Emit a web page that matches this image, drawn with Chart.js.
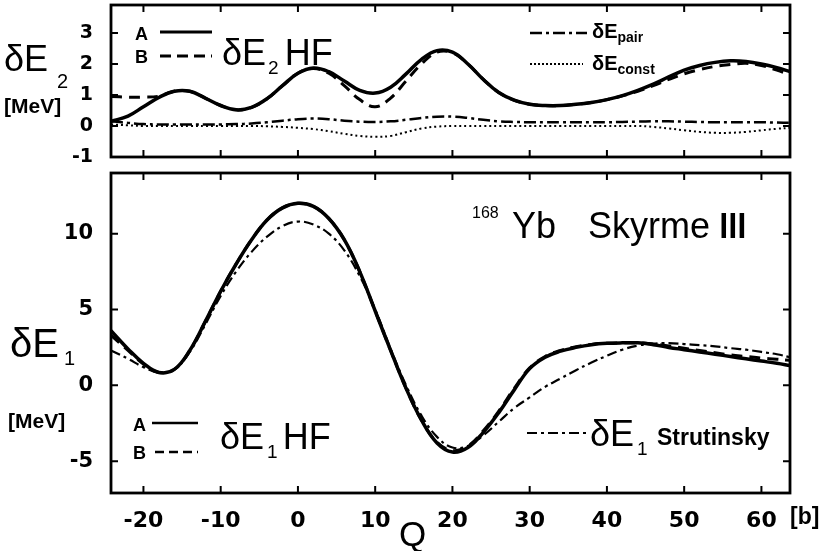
<!DOCTYPE html>
<html><head><meta charset="utf-8">
<script src="https://cdn.jsdelivr.net/npm/chart.js@4.4.1/dist/chart.umd.min.js"></script>
<style>
html,body{margin:0;padding:0;background:#fff;}
#wrap{position:relative;width:819px;height:551px;overflow:hidden;background:#fff;color:#000;font-family:"Liberation Sans",Arial,sans-serif;}
canvas{position:absolute;left:0;top:0;}
.t{position:absolute;white-space:nowrap;line-height:1;}
.big{font-size:36px;}
.bold{font-weight:bold;}
svg{position:absolute;left:0;top:0;}
</style></head>
<body><div id="wrap">
<canvas id="cTop" width="819" height="551"></canvas>
<canvas id="cBot" width="819" height="551"></canvas>
<svg width="819" height="551">
 <line x1="160" y1="32" x2="212" y2="32" stroke="#000" stroke-width="3"/>
 <line x1="160" y1="56" x2="212" y2="56" stroke="#000" stroke-width="3" stroke-dasharray="11,6"/>
 <line x1="530" y1="33" x2="587" y2="33" stroke="#000" stroke-width="2.5" stroke-dasharray="12,4,3,4"/>
 <line x1="530" y1="64" x2="583" y2="64" stroke="#000" stroke-width="2" stroke-dasharray="2,2"/>
 <line x1="152" y1="423" x2="198" y2="423" stroke="#000" stroke-width="2.5"/>
 <line x1="155" y1="452" x2="198" y2="452" stroke="#000" stroke-width="2.5" stroke-dasharray="9,5"/>
 <line x1="527" y1="433" x2="588" y2="433" stroke="#000" stroke-width="2" stroke-dasharray="10,4,3,4"/>
</svg>
<!-- top panel texts -->
<div class="t big" style="left:4px;top:41px;">δE</div>
<div class="t" style="left:57px;top:71px;font-size:20px;">2</div>
<div class="t bold" style="left:4px;top:95px;font-size:21px;">[MeV]</div>
<div class="t bold" style="left:135px;top:25px;font-size:18px;">A</div>
<div class="t bold" style="left:135px;top:48px;font-size:18px;">B</div>
<div class="t big" style="left:222px;top:35px;">δE<span style="font-size:19px;position:relative;top:9px;margin-left:2px;margin-right:6px;">2</span>HF</div>
<div class="t bold" style="left:592px;top:21px;font-size:20px;">δE<span style="font-size:14px;position:relative;top:4px;">pair</span></div>
<div class="t bold" style="left:592px;top:53px;font-size:20px;">δE<span style="font-size:14px;position:relative;top:4px;">const</span></div>
<!-- bottom panel texts -->
<div class="t" style="left:472px;top:205px;font-size:16px;">168</div>
<div class="t big" style="left:512px;top:208px;">Yb</div>
<div class="t big" style="left:588px;top:208px;">Skyrme</div>
<div class="t" style="left:717px;top:209px;font-size:34px;font-family:'DejaVu Sans';transform:scaleX(1.35);transform-origin:left center;">Ⅲ</div>
<div class="t" style="left:10px;top:323px;font-size:40px;">δE</div>
<div class="t" style="left:64px;top:348px;font-size:20px;">1</div>
<div class="t bold" style="left:8px;top:410px;font-size:21px;">[MeV]</div>
<div class="t bold" style="left:133px;top:416px;font-size:18px;">A</div>
<div class="t bold" style="left:133px;top:444px;font-size:18px;">B</div>
<div class="t big" style="left:220px;top:419px;">δE<span style="font-size:19px;position:relative;top:9px;margin-left:3px;margin-right:5px;">1</span>HF</div>
<div class="t big" style="left:590px;top:416px;">δE<span style="font-size:19px;position:relative;top:9px;margin-left:3px;">1</span></div>
<div class="t bold" style="left:657px;top:426px;font-size:23px;">Strutinsky</div>
<div class="t" style="left:399px;top:516px;font-size:35px;">Q</div>
<div class="t bold" style="left:790px;top:505px;font-size:23px;">[b]</div>
</div>
<script>
// ---------- data ----------
const Q = [-24.2,-22,-20,-18,-16,-14,-12,-10,-8,-6,-4,-2,0,2,4,6,8,10,12,14,16,18,20,22,24,26,28,30,32,34,36,38,40,42,44,46,48,50,52,54,56,58,60,62,63.7];
// top panel: delta E2 [MeV]
const dE2_HF_A = [0.15,0.32,0.62,0.92,1.12,1.12,0.90,0.66,0.52,0.60,0.88,1.30,1.70,1.87,1.75,1.45,1.15,1.06,1.25,1.68,2.15,2.43,2.38,2.00,1.50,1.08,0.83,0.70,0.66,0.66,0.70,0.76,0.85,0.98,1.15,1.35,1.58,1.80,1.95,2.05,2.10,2.08,2.00,1.88,1.75];
const dE2_HF_B = [0.95,0.93,0.93,0.96,1.12,1.12,0.90,0.66,0.52,0.60,0.88,1.30,1.70,1.85,1.70,1.30,0.85,0.62,0.90,1.45,2.00,2.38,2.36,2.00,1.50,1.08,0.83,0.70,0.66,0.66,0.70,0.76,0.85,0.97,1.12,1.30,1.50,1.68,1.82,1.92,1.98,2.02,1.95,1.80,1.65];
const dE_pair = [0.15,0.10,0.06,0.05,0.05,0.05,0.05,0.05,0.06,0.08,0.12,0.17,0.22,0.24,0.22,0.17,0.14,0.13,0.15,0.20,0.26,0.30,0.30,0.26,0.20,0.15,0.13,0.12,0.12,0.12,0.12,0.12,0.12,0.13,0.14,0.15,0.15,0.14,0.13,0.12,0.12,0.12,0.12,0.11,0.10];
const dE_const = [0.05,0.02,0.00,0.00,0.00,0.00,0.00,0.00,0.00,0.00,-0.01,-0.03,-0.06,-0.10,-0.17,-0.25,-0.32,-0.35,-0.32,-0.20,-0.08,-0.02,0.00,0.00,0.00,0.00,0.00,0.00,0.00,0.00,0.00,0.00,0.00,0.00,0.00,-0.03,-0.08,-0.14,-0.19,-0.22,-0.22,-0.19,-0.14,-0.09,-0.06];
// bottom panel: delta E1 [MeV]
const dE1_HF_A = [3.6,2.4,1.45,0.85,1.05,2.3,4.2,6.2,8.0,9.6,10.9,11.7,12.0,11.8,11.0,9.6,7.5,4.9,2.3,-0.2,-2.3,-3.8,-4.4,-4.1,-3.1,-1.8,-0.3,1.1,1.85,2.25,2.5,2.68,2.77,2.8,2.8,2.68,2.5,2.35,2.2,2.05,1.9,1.75,1.6,1.45,1.3];
const dE1_HF_B = [3.3,2.3,1.4,0.85,1.05,2.3,4.2,6.2,8.0,9.6,10.9,11.7,12.0,11.8,11.0,9.6,7.5,4.9,2.3,-0.2,-2.3,-3.75,-4.3,-4.0,-3.0,-1.7,-0.2,1.15,1.9,2.3,2.55,2.7,2.78,2.8,2.8,2.72,2.6,2.45,2.3,2.15,2.0,1.9,1.8,1.72,1.65];
const dE1_Strut = [2.3,1.75,1.2,0.85,1.05,2.2,4.0,5.9,7.5,8.8,9.8,10.5,10.8,10.6,10.0,8.9,7.2,5.0,2.4,0.0,-2.0,-3.4,-4.1,-4.0,-3.3,-2.4,-1.5,-0.8,-0.1,0.45,1.0,1.5,1.95,2.35,2.62,2.75,2.78,2.72,2.65,2.57,2.45,2.35,2.2,2.05,1.85];
const xTicks = [-20,-10,0,10,20,30,40,50,60];
const yTicksTop = [-1,0,1,2,3];
const yTicksBot = [-5,0,5,10];

// ---------- helpers ----------
const pts = arr => Q.map((q,i)=>({x:q,y:arr[i]}));
const ds = (arr, w, dash) => ({data: pts(arr), borderColor:'#000', borderWidth:w, borderDash:dash, pointRadius:0, fill:false, tension:0.4});

const frame = {
  id:'frame',
  afterDatasetsDraw(chart, args, opts){
    const {ctx, chartArea:a, scales} = chart;
    ctx.save();
    ctx.strokeStyle = '#000';
    ctx.lineWidth = 2.8;
    ctx.strokeRect(a.left, a.top, a.right-a.left, a.bottom-a.top);
    ctx.lineWidth = 2;
    const L = 7;
    ctx.beginPath();
    xTicks.forEach(v=>{
      const p = scales.x.getPixelForValue(v);
      ctx.moveTo(p, a.bottom); ctx.lineTo(p, a.bottom-L);
      ctx.moveTo(p, a.top); ctx.lineTo(p, a.top+L);
    });
    opts.yTicks.forEach(v=>{
      const p = scales.y.getPixelForValue(v);
      if (p < a.top-1 || p > a.bottom+1) return;
      ctx.moveTo(a.left, p); ctx.lineTo(a.left+L, p);
      ctx.moveTo(a.right, p); ctx.lineTo(a.right-L, p);
    });
    ctx.stroke();
    ctx.restore();
  }
};

const fmt = v => (v<0 ? '-' + Math.abs(v) : String(v));

new Chart(document.getElementById('cTop'), {
  type:'line',
  data:{datasets:[
    ds(dE2_HF_A, 3.5, []),
    ds(dE2_HF_B, 3, [11,7]),
    ds(dE_pair, 2.5, [12,4,3,4]),
    ds(dE_const, 2, [2,3])
  ]},
  options:{
    responsive:false, animation:false, events:[],
    layout:{padding:{left:0, right:29, top:5, bottom:394}},
    plugins:{legend:{display:false}, tooltip:{enabled:false}, frame:{yTicks:yTicksTop}},
    scales:{
      x:{type:'linear', min:-24.2, max:63.7, display:false},
      y:{type:'linear', min:-1, max:3.9,
         grid:{display:false, drawTicks:false}, border:{display:false},
         ticks:{stepSize:1, includeBounds:false, padding:18, color:'#000', font:{family:'DejaVu Sans', weight:'bold', size:19}, callback:fmt},
         afterFit(s){ s.width = 111; s.paddingTop = 0; s.paddingBottom = 0; }}
    }
  },
  plugins:[frame]
});

new Chart(document.getElementById('cBot'), {
  type:'line',
  data:{datasets:[
    ds(dE1_HF_A, 3.5, []),
    ds(dE1_HF_B, 3, [11,7]),
    ds(dE1_Strut, 2.2, [10,4,3,4])
  ]},
  options:{
    responsive:false, animation:false, events:[],
    layout:{padding:{left:0, right:29, top:173, bottom:0}},
    plugins:{legend:{display:false}, tooltip:{enabled:false}, frame:{yTicks:yTicksBot}},
    scales:{
      x:{type:'linear', min:-24.2, max:63.7,
         grid:{display:false, drawTicks:false}, border:{display:false},
         ticks:{stepSize:10, includeBounds:false, padding:15, maxRotation:0, autoSkip:false, color:'#000', font:{family:'DejaVu Sans', weight:'bold', size:22}, callback:fmt},
         afterFit(s){ s.height = 58; s.paddingLeft = 0; s.paddingRight = 0; }},
      y:{type:'linear', min:-7.1, max:14,
         grid:{display:false, drawTicks:false}, border:{display:false},
         ticks:{stepSize:5, includeBounds:false, padding:18, color:'#000', font:{family:'DejaVu Sans', weight:'bold', size:21}, callback:fmt},
         afterFit(s){ s.width = 111; s.paddingTop = 0; s.paddingBottom = 0; }}
    }
  },
  plugins:[frame]
});
</script>
</body></html>
